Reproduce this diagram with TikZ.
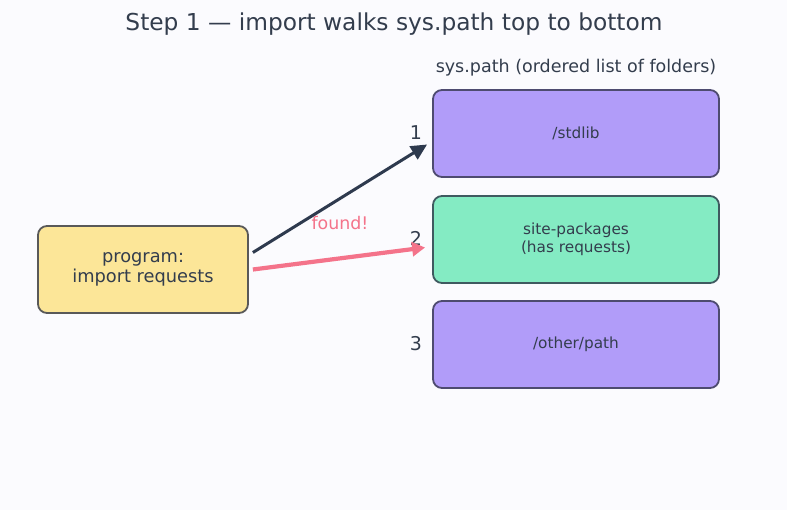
\documentclass[tikz,border=0pt]{standalone}
\usepackage{fontspec}
\setmainfont{DejaVu Sans}
\usetikzlibrary{arrows.meta}
\definecolor{bg}{HTML}{FBFBFE}
\definecolor{ink}{HTML}{333D4D}
\definecolor{lav}{HTML}{B19CF9}
\definecolor{lavline}{HTML}{4E4B70}
\definecolor{mint}{HTML}{84EBC3}
\definecolor{mintline}{HTML}{3F5A60}
\definecolor{sand}{HTML}{FCE698}
\definecolor{sandline}{HTML}{595959}
\definecolor{pink}{HTML}{F4738A}
\definecolor{dark}{HTML}{2E3A4E}
\tikzset{
  folder/.style={draw=lavline, fill=lav, line width=1.8pt, rounded corners=9pt,
    minimum width=286pt, minimum height=87pt, inner sep=0pt, align=center,
    font=\fontsize{15.3}{17.5}\selectfont, text=ink},
  prog/.style={draw=sandline, fill=sand, line width=1.8pt, rounded corners=9pt,
    minimum width=210pt, minimum height=87pt, inner sep=0pt, align=center,
    font=\fontsize{17.8}{20.5}\selectfont, text=ink},
  num/.style={font=\fontsize{19}{22}\selectfont, text=ink},
  conn/.style={line width=3pt, -{Triangle[length=16pt,width=15pt]}},
}
\begin{document}
\begin{tikzpicture}[x=1pt,y=-1pt]
\fill[bg] (0,0) rectangle (787,510);
\useasboundingbox (0,0) rectangle (787,510);
\node[font=\fontsize{23.3}{27}\selectfont, text=ink] (title) at (394,24) {Step 1 — import walks sys.path top to bottom};
\node[font=\fontsize{17.5}{20}\selectfont, text=ink] (head) at (576,68) {sys.path (ordered list of folders)};
\node[folder] (f1) at (576,133.5) {/stdlib};
\node[folder, draw=mintline, fill=mint] (f2) at (576,239.5) {site-packages\\(has requests)};
\node[folder] (f3) at (576,344.5) {/other/path};
\node[num] (n1) at (416,133) {1};
\node[num] (n2) at (416,238) {2};
\node[num] (n3) at (416,344) {3};
\node[prog] (p) at (143,269.5) {program:\\import requests};
\coordinate (a1s) at ([xshift=4pt,yshift=17pt]p.east);
\coordinate (a1e) at ([xshift=-5pt,yshift=-11pt]f1.west);
\coordinate (a2s) at ([xshift=4pt]p.east);
\coordinate (a2e) at ([xshift=-7pt,yshift=-8pt]f2.west);
\draw[conn, dark] (a1s) -- (a1e);
\draw[conn, pink, line width=4.2pt, -{Triangle[length=13pt,width=14pt]}] (a2s) -- (a2e);
\node[font=\fontsize{17.4}{20}\selectfont, text=pink] (found) at (340,223) {found!};
\end{tikzpicture}
\end{document}
